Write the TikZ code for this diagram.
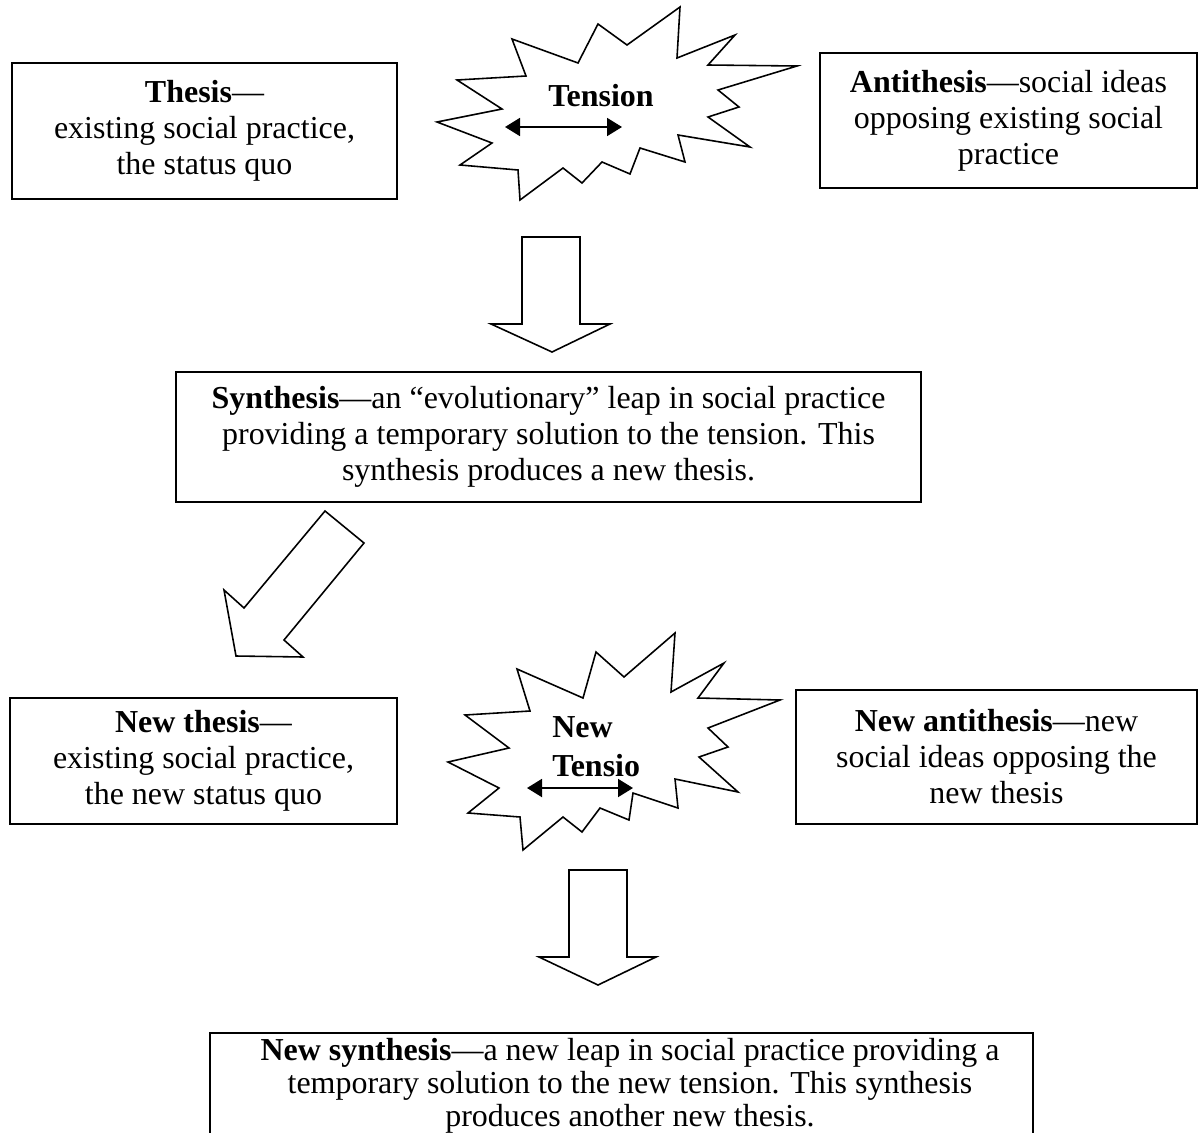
\documentclass[tikz,border=0pt]{standalone}
\usepackage{fontspec}
\setmainfont{Liberation Serif}
\usetikzlibrary{arrows.meta,positioning}

\begin{document}
\begin{tikzpicture}[
    x=0.02cm, y=-0.02cm,
    box/.style={rectangle, draw, line width=1.1pt, align=center, inner sep=0pt, font=\fontsize{18.2}{20.5}\selectfont},
    boxtext/.style={align=center, inner sep=0pt, font=\fontsize{18.2}{18.7}\selectfont},
    burst/.style={draw, line width=0.9pt, line join=miter},
    fatarrow/.style={draw, line width=0.9pt, line join=miter},
    twoway/.style={{Triangle[length=0.3cm, width=0.36cm]}-{Triangle[length=0.3cm, width=0.36cm]}, line width=1.1pt},
    burstlabel/.style={font=\fontsize{18.2}{20.5}\selectfont\bfseries, inner sep=0pt}
]
\clip (0,0) rectangle (1199,1132);

% First round
\node[box, minimum width=7.7cm, minimum height=2.72cm] (thesis) at (204.5,131)
    {\textbf{Thesis}—\\existing social practice,\\the status quo};
\node[box, minimum width=7.54cm, minimum height=2.7cm] (antithesis) at (1008.5,120.5)
    {\textbf{Antithesis}—social ideas\\opposing existing social\\practice};

% Tension
\draw[burst] (512,39) -- (578,63) -- (598,24) -- (627,45) -- (680,7) -- (677,58)
    -- (735,35) -- (708,65) -- (797,66) -- (718,90) -- (739,107) -- (708,117)
    -- (750,147) -- (678,135) -- (685,162) -- (640,148) -- (630,174) -- (602,162)
    -- (582,183) -- (563,168) -- (520,200) -- (518,170) -- (460,165) -- (492,143)
    -- (437,122) -- (502,109) -- (457,80) -- (526,76) -- cycle;
\node[burstlabel] (tension) at (601,96) {Tension};
\coordinate (t1) at (505,127);
\coordinate (t2) at (622,127);
\draw[twoway] (t1) -- (t2);

% Down to synthesis
\draw[fatarrow] (522,237) -- (580,237) -- (580,324) -- (610,324) -- (552,352)
    -- (491,324) -- (522,324) -- cycle;

\node[box, minimum width=14.9cm, minimum height=2.6cm] (synthesis) at (548.5,437)
    {\textbf{Synthesis}—an “evolutionary” leap in social practice\\providing a temporary solution to the tension. This\\synthesis produces a new thesis.};

% Back to a new thesis
\draw[fatarrow] (325,511) -- (364,543) -- (284,640) -- (303,657) -- (236,656)
    -- (224,590) -- (244,608) -- cycle;

% Second round
\node[box, minimum width=7.74cm, minimum height=2.52cm] (newthesis) at (203.5,761)
    {\textbf{New thesis}—\\existing social practice,\\the new status quo};
\node[box, minimum width=8.02cm, minimum height=2.68cm] (newantithesis) at (996.5,757)
    {\textbf{New antithesis}—new\\social ideas opposing the\\new thesis};

% New tension
\draw[burst] (517,669) -- (583,698) -- (596,652) -- (624,677) -- (675,633) -- (671,692)
    -- (724,663) -- (698,698) -- (780,700) -- (708,728) -- (728,747) -- (699,757)
    -- (738,792) -- (675,779) -- (678,808) -- (633,793) -- (629,820) -- (600,808)
    -- (582,832) -- (563,817) -- (523,850) -- (520,817) -- (468,813) -- (499,788)
    -- (448,762) -- (509,748) -- (465,715) -- (530,711) -- cycle;
\node[burstlabel, align=left, font=\fontsize{18.2}{22}\selectfont\bfseries, anchor=west] (newtension) at (552,747) {New\\Tensio};
\coordinate (n1) at (527,788);
\coordinate (n2) at (633,788);
\draw[twoway] (n1) -- (n2);

% Down to new synthesis
\draw[fatarrow] (569,870) -- (627,870) -- (627,957) -- (656,957) -- (598,985)
    -- (539,957) -- (569,957) -- cycle;

\node[box, minimum width=16.46cm, minimum height=2.3cm, anchor=north] (newsynthesis) at (621.5,1032) {};
\node[boxtext] (newsynthesistext) at (630,1086)
    {\textbf{New synthesis}—a new leap in social practice providing a\\temporary solution to the new tension. This synthesis\\produces another new thesis.};

\end{tikzpicture}
\end{document}
